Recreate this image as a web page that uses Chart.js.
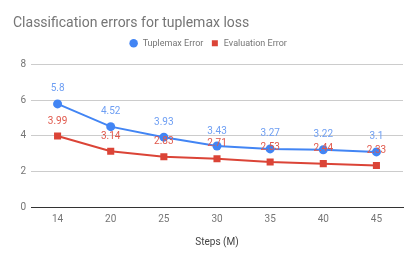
<!DOCTYPE html>
<html>
<head>
<meta charset="utf-8">
<script src="https://cdn.jsdelivr.net/npm/chart.js@4/dist/chart.umd.min.js"></script>
<style>
  html, body { margin: 0; padding: 0; background: #fff; }
  #wrap { width: 417px; height: 258px; }
</style>
</head>
<body>
<div id="wrap"><canvas id="errChart" width="417" height="258"></canvas></div>
<script>
// valori
var steps = ['14', '20', '25', '30', '35', '40', '45'];
var tuplemaxError = [5.8, 4.52, 3.93, 3.43, 3.27, 3.22, 3.1];
var evaluationError = [3.99, 3.14, 2.83, 2.71, 2.53, 2.44, 2.33];
var yTicks = [0, 2, 4, 6, 8];

var blue = '#4285F4';
var red = '#DB4437';
var grey = '#757575';

Chart.defaults.font.family = 'Roboto, "Noto Sans", sans-serif';

// etichette sopra i punti
var valueLabels = {
    id: 'valueLabels',
    afterDatasetsDraw: function (chart) {
        var ctx = chart.ctx;
        ctx.save();
        ctx.font = '10px Roboto, sans-serif';
        ctx.textAlign = 'center';
        ctx.textBaseline = 'middle';
        chart.data.datasets.forEach(function (ds, i) {
            var meta = chart.getDatasetMeta(i);
            meta.data.forEach(function (pt, j) {
                ctx.fillStyle = ds.labelColor;
                ctx.fillText(String(ds.data[j]), pt.x, pt.y - 15);
            });
        });
        ctx.restore();
    }
};

// spazio extra sotto la legenda
var legendGap = {
    id: 'legendGap',
    afterInit: function (chart) {
        var lg = chart.legend;
        var origFit = lg.fit;
        lg.fit = function () {
            origFit.call(this);
            this.height += 7;
        };
    }
};

var ctx = document.getElementById('errChart').getContext('2d');
var errChart = new Chart(ctx, {
    type: 'line',
    data: {
        labels: steps,
        datasets: [{
            label: 'Tuplemax Error',
            data: tuplemaxError,
            borderColor: blue,
            backgroundColor: blue,
            borderWidth: 2,
            pointStyle: 'circle',
            pointRadius: 4.5,
            pointBorderWidth: 0,
            labelColor: '#6d9ef3',
            tension: 0
        }, {
            label: 'Evaluation Error',
            data: evaluationError,
            borderColor: red,
            backgroundColor: red,
            borderWidth: 2,
            pointStyle: 'rect',
            pointRadius: 5,
            pointBorderWidth: 0,
            labelColor: '#e0584c',
            tension: 0
        }]
    },
    options: {
        responsive: false,
        animation: false,
        layout: { padding: { left: 13, right: 14, top: 0, bottom: 4 } },
        plugins: {
            title: {
                display: true,
                text: 'Classification errors for tuplemax loss',
                align: 'start',
                color: grey,
                font: { size: 14, weight: 'normal' },
                padding: { top: 15, bottom: 0 }
            },
            legend: {
                position: 'top',
                labels: {
                    usePointStyle: true,
                    boxHeight: 6,
                    color: grey,
                    font: { size: 9 },
                    padding: 7
                }
            },
            tooltip: { enabled: false }
        },
        scales: {
            x: {
                offset: true,
                grid: { display: false, drawTicks: false },
                border: { display: true, color: '#333333', width: 1 },
                ticks: { color: grey, font: { size: 10 }, padding: 6 },
                title: {
                    display: true,
                    text: 'Steps (M)',
                    color: '#444444',
                    font: { size: 10 },
                    padding: { top: 4, bottom: 6 }
                },
                afterFit: function (scale) { scale.height = 47; }
            },
            y: {
                min: 0,
                max: 8,
                afterBuildTicks: function (scale) {
                    scale.ticks = yTicks.map(function (v) { return { value: v }; });
                },
                grid: { color: '#cccccc', drawTicks: false },
                border: { display: false },
                ticks: { color: grey, font: { size: 10 }, padding: 5 },
                afterFit: function (scale) { scale.width = 18; }
            }
        }
    },
    plugins: [valueLabels, legendGap]
});
</script>
</body>
</html>
